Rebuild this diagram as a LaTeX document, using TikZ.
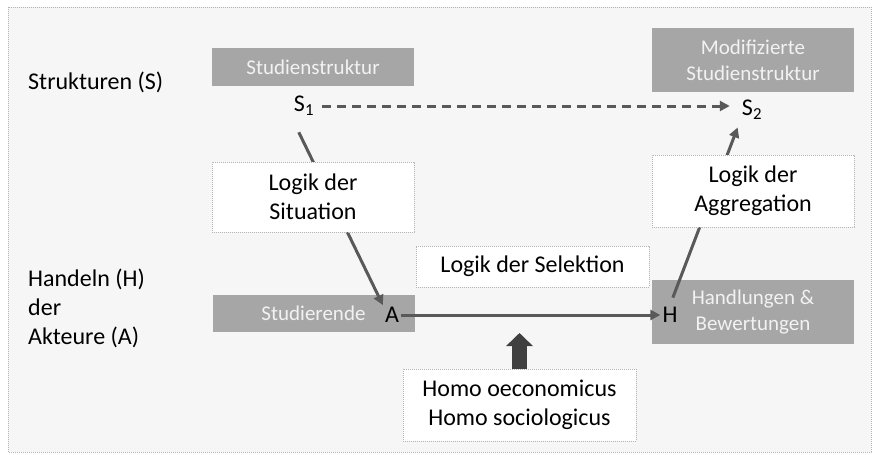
\documentclass[tikz,border=0pt]{standalone}
\usepackage{fontspec}
\setmainfont{Carlito}
\usepackage{xcolor}
\usepackage{tikz}
\usetikzlibrary{arrows.meta}

\definecolor{bggray}{HTML}{F6F6F6}
\definecolor{boxgray}{HTML}{A6A6A6}
\definecolor{boxtext}{HTML}{F2F2F2}
\definecolor{arrowgray}{HTML}{595959}
\definecolor{blockgray}{HTML}{404040}
\definecolor{dotgray}{HTML}{B4B4B4}
\newcommand{\bigtxt}{\fontsize{24}{29}\selectfont}
\newcommand{\smalltxt}{\fontsize{21}{26}\selectfont}

\begin{document}
\begin{tikzpicture}[x=1pt, y=-1pt, every node/.style={font=\bigtxt, inner sep=0pt}]
  % Styles
  \tikzstyle{struct}=[rectangle, fill=boxgray, text=boxtext, font=\smalltxt, minimum width=202pt, align=center]
  \tikzstyle{logik}=[rectangle, draw=dotgray, line width=0.8pt, dash pattern=on 0.8pt off 1.2pt, fill=white, minimum width=202pt, align=center]
  \tikzstyle{letter}=[inner sep=2pt]
  \tikzstyle{arrowline}=[draw=arrowgray, line width=3pt, -{Triangle[length=10pt, width=10pt]}]
  \tikzstyle{blockarrow}=[draw=blockgray, line width=15pt, -{Triangle[length=13pt, width=26pt]}]

  % Frame
  \useasboundingbox (0,0) rectangle (876,455);
  \draw[dotgray, fill=bggray, line width=0.8pt, dash pattern=on 0.8pt off 1.2pt] (8,7) rectangle (871,452);

  % Row labels
  \node[anchor=west] (strukt) at (28,82) {Strukturen (S)};
  \node[anchor=west, align=left] (handeln) at (28,308) {Handeln (H)\\der\\Akteure (A)};

  % Grey boxes
  \node[struct, minimum height=38pt] (studstr) at (313,67) {Studienstruktur};
  \node[struct, minimum height=64pt] (modstr) at (753,60) {Modifizierte\\Studienstruktur};
  \node[struct, minimum height=37pt] (studi) at (313.5,313.5) {Studierende};
  \node[struct, minimum height=64pt] (handl) at (753,312) {Handlungen \&\\Bewertungen};

  % S, A, H
  \node[letter] (s1) at (304,106) {S\textsubscript{1}};
  \node[letter] (s2) at (752,110) {S\textsubscript{2}};
  \node[letter] (a) at (392,315) {A};
  \node[letter] (h) at (670,315) {H};

  % Arrows
  \draw[arrowline, dash pattern=on 9pt off 6pt, shorten <=6pt, shorten >=10pt] (s1) -- (s1 -| s2.west);
  \draw[arrowline, shorten <=16pt] (s1.south west) -- (a.north west);
  \draw[arrowline] (a) -- (h);
  \draw[arrowline, shorten <=8pt, shorten >=6pt] (h.north) -- (s2.south west);

  % Logik boxes
  \node[logik, minimum height=70pt] (sit) at (313,197) {Logik der\\Situation};
  \node[logik, minimum height=72pt] (agg) at (753,191) {Logik der\\Aggregation};
  \node[logik, minimum width=233pt, minimum height=41pt] (sel) at (532.5,266.5) {Logik der Selektion};
  \node[logik, minimum width=233pt, minimum height=72pt] (homo) at (519.5,405) {Homo oeconomicus\\Homo sociologicus};

  % Block arrow
  \coordinate (selpt) at (519.5,333);
  \draw[blockarrow] (homo.north) -- (selpt);
\end{tikzpicture}
\end{document}
